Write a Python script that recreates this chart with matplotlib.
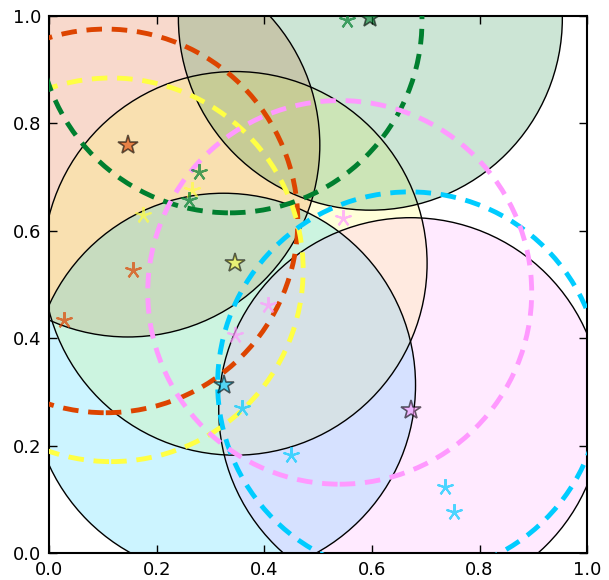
import numpy as np
import matplotlib
matplotlib.use('Agg')
import matplotlib.pyplot as plt
from matplotlib.patches import Circle

# cluster colours
colors = ['#dd4400', '#ffff44', '#007f2f', '#00ccff', '#ff99ff']

# cluster centres (stars) and the solid circle radius
center_x = [0.146, 0.3455, 0.597, 0.324, 0.672]
center_y = [0.759, 0.539, 0.995, 0.3125, 0.267]
radius = 0.357

# dashed circles
dash_x = [0.105, 0.115, 0.336, 0.670, 0.540]
dash_y = [0.618, 0.527, 0.990, 0.315, 0.485]

# points of each cluster
pts_x = [[0.156, 0.027],
         [0.175, 0.265],
         [0.279, 0.260, 0.553],
         [0.358, 0.450, 0.736, 0.752],
         [0.547, 0.4075, 0.3455]]
pts_y = [[0.527, 0.434],
         [0.629, 0.675],
         [0.709, 0.657, 0.992],
         [0.269, 0.182, 0.123, 0.077],
         [0.623, 0.461, 0.406]]

fig = plt.figure(figsize=(6.09, 5.80), dpi=100)
ax = fig.add_axes([0.081, 0.0466, 0.883, 0.9264])

for k, c in enumerate(colors):
    ax.add_patch(Circle((center_x[k], center_y[k]), radius, facecolor=c,
                        alpha=0.2, edgecolor='none', zorder=1))
    ax.add_patch(Circle((center_x[k], center_y[k]), radius, facecolor='none',
                        edgecolor='black', lw=1.0, zorder=2))

for k, c in enumerate(colors):
    ax.add_patch(Circle((dash_x[k], dash_y[k]), radius, facecolor='none',
                        edgecolor=c, lw=3.5, linestyle=(0, (3.2, 2.0)), zorder=3))

for k, c in enumerate(colors):
    ax.plot(pts_x[k], pts_y[k], linestyle='none', marker=(5, 2, 0), ms=12,
            mew=1.5, color=c, alpha=0.7, zorder=4)
    ax.plot(center_x[k], center_y[k], linestyle='none', marker='*', ms=15,
            mfc=c, mec='black', mew=1.2, alpha=0.6, zorder=5)

ax.set_xlim(0, 1)
ax.set_ylim(0, 1)
ax.set_xticks(np.arange(0, 1.01, 0.2))
ax.set_yticks(np.arange(0, 1.01, 0.2))
ax.tick_params(direction='in', length=6, width=1, top=True, right=True,
               labelsize=13, pad=6)
for s in ax.spines.values():
    s.set_linewidth(1.5)

fig.savefig('out.png', dpi=100)
